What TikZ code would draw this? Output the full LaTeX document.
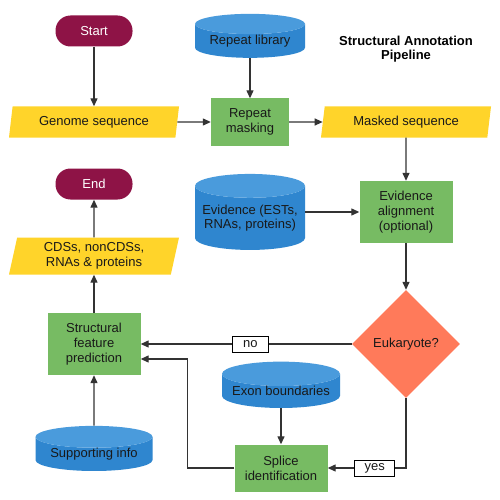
\documentclass[tikz,border=0pt]{standalone}
\usepackage{fontspec}
\setmainfont{Liberation Sans}
\usetikzlibrary{shapes.geometric, arrows.meta}

\definecolor{termred}{HTML}{8E1346}
\definecolor{ioyellow}{HTML}{FFD42A}
\definecolor{procgreen}{HTML}{77BB63}
\definecolor{dbblue}{HTML}{2F86CF}
\definecolor{dbtop}{HTML}{4A9BDC}
\definecolor{decorange}{HTML}{FF7A5A}
\definecolor{linegray}{HTML}{333333}

\tikzset{
  base/.style={font=\fontsize{13}{15}\selectfont, align=center, inner sep=0pt, text=black!90},
  term/.style={base, rectangle, rounded corners=15pt, fill=termred, text=white,
               minimum width=77pt, minimum height=31pt},
  io/.style={base, trapezium, trapezium left angle=73, trapezium right angle=107,
             trapezium stretches body, fill=ioyellow, minimum width=170pt, minimum height=31pt},
  proc/.style={base, rectangle, fill=procgreen, minimum width=93pt, minimum height=47pt},
  store/.style={base, font=\fontsize{13}{14}\selectfont, cylinder, shape border rotate=90, aspect=0.25,
                cylinder uses custom fill, cylinder body fill=dbblue, cylinder end fill=dbtop,
                minimum width=110pt, minimum height=44pt},
  decide/.style={base, diamond, fill=decorange, minimum width=108pt, minimum height=108pt},
  lbl/.style={base, draw=black, fill=white, line width=0.8pt, minimum height=16pt},
  arrow/.style={draw=linegray, line width=1.3pt, -{Triangle[length=8pt,width=7pt]}},
}

\begin{document}
\begin{tikzpicture}[x=1pt, y=-1pt]
  \fill[white] (0,0) rectangle (500,500);
  \useasboundingbox (0,0) rectangle (500,500);

  % top row
  \node[term] (start) at (94,31) {Start};
  \node[store] (replib) at (250,41) {Repeat library};
  \node[base, font=\fontsize{13}{14}\selectfont\bfseries, text=black] (title) at (406,49)
       {Structural Annotation\\Pipeline};
  \node[io] (genome) at (94,122) {Genome sequence};
  \node[proc, minimum width=78pt] (mask) at (250,122) {Repeat\\masking};
  \node[io] (masked) at (406,122) {Masked sequence};

  % middle
  \node[term] (end) at (94,184) {End};
  \node[store, minimum height=76pt] (evid) at (250,218) {Evidence (ESTs,\\RNAs, proteins)};
  \node[proc, minimum height=62pt] (align) at (406,212) {Evidence\\alignment\\(optional)};
  \node[io, minimum height=37pt] (cds) at (94,256) {CDSs, nonCDSs,\\RNAs \& proteins};
  \node[proc, minimum height=62pt] (predict) at (94,344) {Structural\\feature\\prediction};
  \node[decide] (euk) at (406,344) {Eukaryote?};

  % bottom
  \node[store, minimum width=118pt, minimum height=43pt] (exon) at (281,391) {Exon boundaries};
  \node[proc] (splice) at (281,468) {Splice\\identification};
  \node[store, minimum width=117pt] (support) at (94,454) {Supporting info};

  % connectors
  \draw[arrow] (start) -- (genome);
  \draw[arrow] (genome) -- (mask);
  \draw[arrow] (replib) -- (mask);
  \draw[arrow] (mask) -- (masked);
  \draw[arrow] (masked) -- (align);
  \draw[arrow] (evid.east |- align.west) -- (align.west);
  \draw[arrow] (align) -- (euk);
  \draw[arrow] (euk) -- node[lbl, minimum width=36pt, pos=0.48] {no} (predict);
  \draw[arrow] (euk.south) |- node[lbl, minimum width=40pt, pos=0.7] {yes} (splice.east);
  \draw[arrow] (exon) -- (splice);
  \draw[arrow] (splice.west) -- ++(-47,0) |- ([yshift=-15pt]predict.east);
  \draw[arrow] (support) -- (predict);
  \draw[arrow] (predict) -- (cds);
  \draw[arrow] (cds) -- (end);
\end{tikzpicture}
\end{document}
